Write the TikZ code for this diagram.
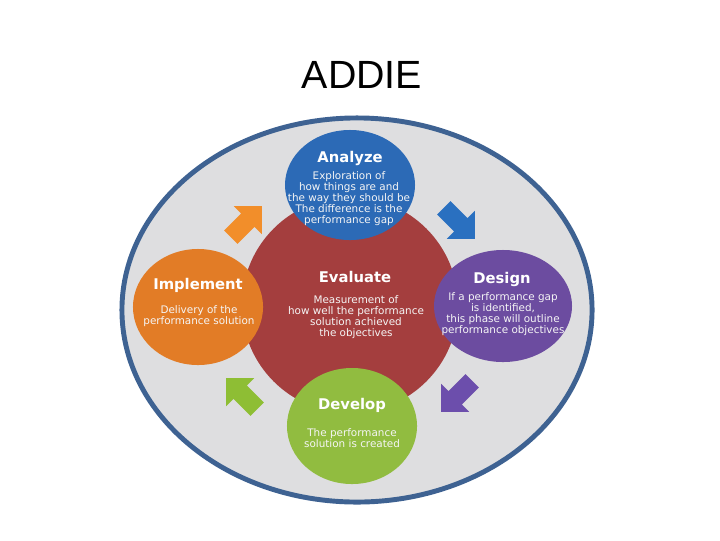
\documentclass[tikz,border=0pt]{standalone}
\usepackage{fontspec}
\setmainfont{DejaVu Sans}
\newfontfamily\headfont{Liberation Sans}
\usetikzlibrary{shapes.geometric,shapes.arrows}
\definecolor{rimblue}{RGB}{62,98,146}
\definecolor{plategray}{RGB}{222,222,224}
\definecolor{evalred}{RGB}{164,62,62}
\definecolor{analyzeblue}{RGB}{44,106,182}
\definecolor{designpurple}{RGB}{108,76,160}
\definecolor{developgreen}{RGB}{145,188,64}
\definecolor{implorange}{RGB}{226,124,38}
\definecolor{arrorange}{RGB}{242,142,42}
\definecolor{arrblue}{RGB}{42,112,192}
\definecolor{arrpurple}{RGB}{108,78,172}
\definecolor{arrgreen}{RGB}{142,190,52}

\begin{document}
\begin{tikzpicture}[x=0.025cm,y=-0.025cm]
\tikzstyle{every node}+=[inner sep=0pt]
\tikzstyle{phase}=[ellipse,draw=none]
\tikzstyle{phasetitle}=[text=white,font=\bfseries\fontsize{10.5}{12}\selectfont]
\tikzstyle{phasebody}=[text=white!92!gray,align=center,font=\fontsize{7.4}{7.8}\selectfont]
\tikzstyle{cyclearrow}=[single arrow,draw=none,inner xsep=0pt,inner ysep=0.23cm,minimum height=1.1cm,single arrow head extend=0.26cm,single arrow tip angle=90]
\useasboundingbox (0,0) rectangle (720,540);
\fill[white] (0,0) rectangle (720,540);
\node[font=\headfont\fontsize{28}{32}\selectfont] (title) at (362,75) {ADDIE};
\node[phase,fill=plategray,draw=rimblue,line width=3.5pt,minimum width=11.75cm,minimum height=9.6cm] (plate) at (357,310) {};
\node[phase,fill=evalred,minimum width=5.4cm,minimum height=5.4cm] (evaluate) at (350,305) {};
\node[phase,fill=analyzeblue,minimum width=3.25cm,minimum height=2.75cm] (analyze) at (350,185) {};
\node[phase,fill=implorange,minimum width=3.25cm,minimum height=2.9cm] (implement) at (198,307) {};
\node[phase,fill=designpurple,minimum width=3.45cm,minimum height=2.8cm] (design) at (503,306) {};
\node[phase,fill=developgreen,minimum width=3.25cm,minimum height=2.9cm] (develop) at (352,426) {};
\node[phasetitle] (evaluateT) at (355,277) {Evaluate};
\node[phasebody] (evaluateB) at (356,317) {Measurement of\\how well the performance\\solution achieved\\the objectives};
\node[phasetitle] (analyzeT) at (350,158) {Analyze};
\node[phasebody] (analyzeB) at (349,199) {Exploration of\\how things are and\\the way they should be\\The difference is the\\performance gap};
\node[phasetitle] (implementT) at (198,285) {Implement};
\node[phasebody] (implementB) at (199,316) {Delivery of the\\performance solution};
\node[phasetitle] (designT) at (502,279) {Design};
\node[phasebody] (designB) at (503,314) {If a performance gap\\is identified,\\this phase will outline\\performance objectives};
\node[phasetitle] (developT) at (352,405) {Develop};
\node[phasebody] (developB) at (352,438) {The performance\\solution is created};
\node[cyclearrow,fill=arrorange,rotate=45] (toAnalyze) at (243,225) {};
\node[cyclearrow,fill=arrblue,rotate=-45] (toDesign) at (456,220) {};
\node[cyclearrow,fill=arrpurple,rotate=-135] (toDevelop) at (460,393) {};
\node[cyclearrow,fill=arrgreen,rotate=135] (toImplement) at (245,397) {};
\end{tikzpicture}
\end{document}
